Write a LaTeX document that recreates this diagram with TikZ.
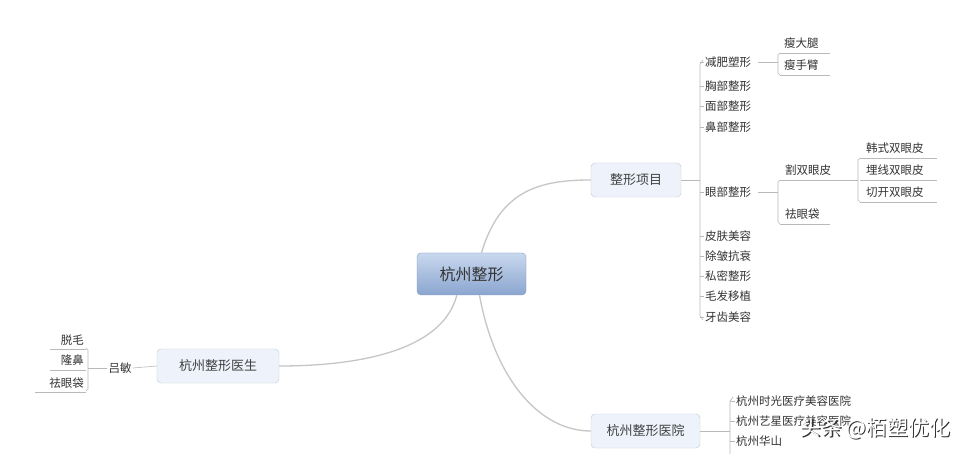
\documentclass[tikz,border=0pt]{standalone}
\usepackage{fontspec}
\setmainfont{Noto Sans CJK SC}
\definecolor{ctop}{HTML}{C9D8EE}
\definecolor{cbot}{HTML}{8AA5CF}
\definecolor{cbord}{HTML}{7F98C2}
\definecolor{tfill}{HTML}{EEF3FB}
\definecolor{tbord}{HTML}{BFC8D6}
\begin{document}
\begin{tikzpicture}[x=1pt,y=-1pt,
  conn/.style={draw=gray!45,line width=1.3pt},
  br/.style={draw=gray!55,line width=0.6pt},
  topic/.style={draw=tbord,rounded corners=4pt,fill=tfill,minimum height=34pt,font=\fontsize{13}{15}\selectfont,text=black!75},
  leaf/.style={inner sep=1pt,font=\fontsize{11.5}{13}\selectfont,text=black!80,anchor=west}]
\useasboundingbox (0,0) rectangle (977,454);
\fill[white] (0,0) rectangle (977,454);
% central
\node[draw=cbord,rounded corners=4pt,top color=ctop,bottom color=cbot,minimum width=109pt,minimum height=42pt,font=\fontsize{16}{18}\selectfont,text=black!80] (c) at (471.5,274) {杭州整形};
\node[topic,minimum width=90pt] (p) at (636,180) {整形项目};
\node[topic,minimum width=122pt] (d) at (218,366) {杭州整形医生};
\node[topic,minimum width=109pt] (h) at (645.5,431) {杭州整形医院};
\draw[conn] (c.north) ++(10,0) .. controls (500,190) and (540,180) .. (p.west);
\draw[conn] (c.south west) ++(40,0) .. controls (440,360) and (330,366) .. (d.east);
\draw[conn] (c.south) ++(8,0) .. controls (495,380) and (540,431) .. (h.west);
% right list
\draw[br] (p.east) -- (700,180);
\draw[br] (703,60) -- (700,64) -- (700,316) -- (703,320);
\foreach \t/\y [count=\i] in {减肥塑形/62,胸部整形/86,面部整形/106,鼻部整形/127,眼部整形/192,皮肤美容/236,除皱抗衰/256,私密整形/276,毛发移植/296,牙齿美容/317}
  {\node[leaf] (r\i) at (704,\y) {\t}; \draw[br] (700,\y) -- (704,\y);}
% 减肥塑形 children
\draw[br] (r1.east) ++(6,0) -- (778,62);
\draw[br] (780,53) -- (778,55) -- (778,73) -- (780,75);
\node[leaf] (a1) at (783,43) {瘦大腿}; \node[leaf] (a2) at (783,65) {瘦手臂};
\draw[br] (780,53) -- (830,53); \draw[br] (780,75) -- (830,75);
% 眼部整形 children
\draw[br] (r5.east) ++(6,0) -- (778,192);
\draw[br] (780,180) -- (778,182) -- (778,222) -- (780,224);
\node[leaf] (e1) at (784,170) {割双眼皮}; \node[leaf] (e2) at (784,214) {祛眼袋};
\draw[br] (780,180) -- (858,180); \draw[br] (780,224) -- (830,224);
\draw[br] (860,158) -- (858,160) -- (858,200) -- (860,202);
\node[leaf] (k1) at (865,148) {韩式双眼皮};
\node[leaf] (k2) at (865,170) {埋线双眼皮};
\node[leaf] (k3) at (865,192) {切开双眼皮};
\foreach \y in {158,180,202} \draw[br] (860,\y) -- (937,\y);
% left
\node[leaf,anchor=center] (lm) at (120,368) {吕敏};
\draw[br] (d.west) -- (lm.east);
\draw[br] (lm.west) -- (88,368);
\draw[br] (86,348) -- (88,350) -- (88,389) -- (86,391);
\node[leaf,anchor=east] (l1) at (85,340) {脱毛};
\node[leaf,anchor=east] (l2) at (85,360) {隆鼻};
\node[leaf,anchor=east] (l3) at (85,383) {祛眼袋};
\draw[br] (50,349) -- (86,349); \draw[br] (50,370) -- (86,370); \draw[br] (35,392) -- (86,392);
% hospitals
\draw[br] (h.east) -- (730,431);
\draw[br] (733,397) -- (730,401) -- (730,454);
\node[leaf] (h1) at (735,401) {杭州时光医疗美容医院};
\node[leaf] (h2) at (735,421) {杭州艺星医疗美容医院};
\node[leaf] (h3) at (735,441) {杭州华山};
\foreach \y in {401,421,441} \draw[br] (730,\y) -- (735,\y);
% watermark
\node[font=\fontsize{21}{24}\selectfont,text=black!80] (wm0) at (876.5,429.5) {头条 @栢塑优化};
\node[font=\fontsize{21}{24}\selectfont,text=white] (wm) at (875,428) {头条 @栢塑优化};
\end{tikzpicture}
\end{document}
